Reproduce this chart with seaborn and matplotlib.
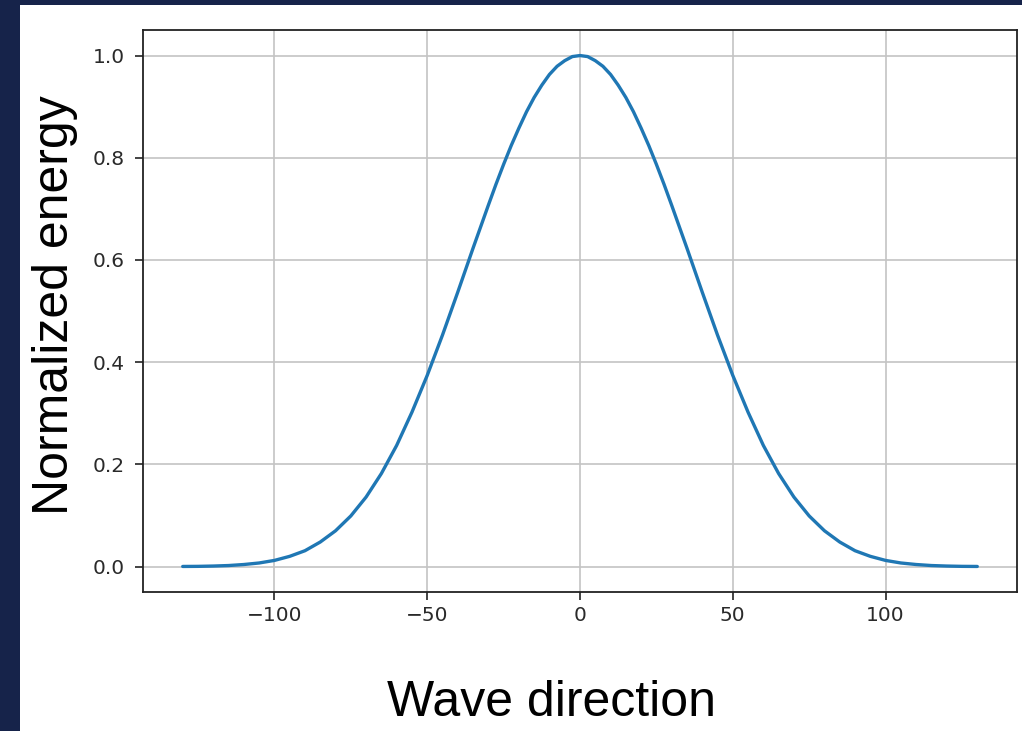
import matplotlib
matplotlib.use("Agg")
import matplotlib.pyplot as plt
import seaborn as sns
import pandas as pd
from matplotlib.patches import Rectangle

# Data
directions = [-130, -125, -120, -115, -110, -105, -100, -95, -90, -85, -80, -75, -70,
              -65, -60, -55, -50, -45, -40, -35, -30, -27.5, -25, -22.5, -20, -17.5, -15,
              -12.5, -10, -7.5, -5, -2.5, 0,
              2.5, 5, 7.5, 10, 12.5, 15, 17.5, 20, 22.5, 25, 27.5, 30,
              35, 40, 45, 50, 55, 60, 65, 70,
              75, 80, 85, 90, 95, 100, 105, 110, 115, 120, 125, 130]
energy = [0.0002, 0.0004, 0.001, 0.002, 0.004, 0.007, 0.012, 0.020, 0.031, 0.048, 0.070, 0.099, 0.136,
          0.182, 0.237, 0.302, 0.374, 0.453, 0.537, 0.623, 0.707, 0.748, 0.787, 0.824, 0.858, 0.890, 0.918,
          0.942, 0.963, 0.979, 0.990, 0.998, 1.0,
          0.998, 0.990, 0.979, 0.963, 0.942, 0.918, 0.890, 0.858, 0.824, 0.787, 0.748, 0.707,
          0.623, 0.537, 0.453, 0.374, 0.302, 0.237, 0.182, 0.136,
          0.099, 0.070, 0.048, 0.031, 0.020, 0.012, 0.007, 0.004, 0.002, 0.001, 0.0004, 0.0002]
x_label = "Wave direction"
y_label = "Normalized energy"

df = pd.DataFrame({"direction": directions, "energy": energy})

sns.set_theme(style="ticks")
plt.rcParams["font.family"] = ["DejaVu Sans"]

W, H = 1022, 731
fig = plt.figure(figsize=(W / 100, H / 100), dpi=100)
navy = "#16234a"
fig.patch.set_facecolor(navy)
bg = Rectangle((20 / W, 0), 1 - 20 / W, (H - 5) / H,
               transform=fig.transFigure, facecolor="white",
               edgecolor="none", zorder=-10)
fig.add_artist(bg)

ax = fig.add_axes([143 / W, (H - 592) / H, (1017 - 143) / W, (592 - 30) / H])
ax.set_zorder(1)
ax.set_facecolor("white")
sns.lineplot(data=df, x="direction", y="energy", ax=ax, color="#1f77b4", linewidth=2.4)
ax.margins(x=0.05, y=0.05)
ax.set_xticks([-100, -50, 0, 50, 100])
ax.set_yticks([0.0, 0.2, 0.4, 0.6, 0.8, 1.0])
ax.set_yticklabels(["0.0", "0.2", "0.4", "0.6", "0.8", "1.0"])
ax.grid(True, color="#c4c4c4", linewidth=1.2)
ax.set_axisbelow(True)
for s in ax.spines.values():
    s.set_visible(True)
    s.set_color("#222222")
    s.set_linewidth(1.3)
ax.tick_params(axis="both", direction="out", length=6, width=1.2, color="#222222",
               labelsize=14.5, labelcolor="#2a2a2a")
ax.tick_params(axis="x", pad=4)
ax.tick_params(axis="y", pad=7)
ax.set_xlabel("")
ax.set_ylabel("")

fig.text(551 / W, 1 - 703 / H, x_label, ha="center", va="center",
         fontsize=36, family=["Liberation Sans", "DejaVu Sans"], color="black")
fig.text(55 / W, 1 - 305 / H, y_label, ha="center", va="center", rotation=90,
         fontsize=36, family=["Liberation Sans", "DejaVu Sans"], color="black")

fig.savefig("out.png", dpi=100, facecolor=fig.get_facecolor())
